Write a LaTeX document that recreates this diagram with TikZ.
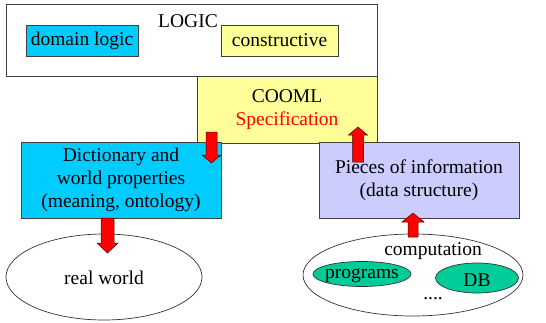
\documentclass[tikz,border=0pt]{standalone}
\usepackage{fontspec}
\setmainfont{Liberation Serif}
\definecolor{cyanbox}{HTML}{00CCFF}
\definecolor{yellowbox}{HTML}{FFFF99}
\definecolor{lavbox}{HTML}{CCCCFF}
\definecolor{greenell}{HTML}{00CC99}
\definecolor{redarrow}{HTML}{FF0000}
\begin{document}
\begin{tikzpicture}[x=1pt,y=-1pt,
  box/.style={draw=black!75,line width=0.8pt,rectangle,inner sep=0pt,align=center,
    font=\fontsize{19.5}{23}\selectfont},
  lbl/.style={inner sep=0pt,font=\fontsize{19.5}{23}\selectfont},
  ellline/.style={draw=black!80,line width=0.7pt},
  barrow/.style={fill=redarrow,draw=black!70!red,line width=0.5pt}]
\useasboundingbox (0,0) rectangle (546,322);
% boxes
\node[box,fill=white,minimum width=371pt,minimum height=72pt] (logic) at (191.5,40) {};
\node[lbl] (logict) at (188,21) {LOGIC};
\node[box,fill=cyanbox,minimum width=112pt,minimum height=31pt] (domain) at (82,40.5) {domain logic};
\node[box,fill=yellowbox,minimum width=117pt,minimum height=31pt] (constr) at (279.5,40.5) {constructive};
\node[box,fill=yellowbox,minimum width=180pt,minimum height=67pt] (cooml) at (287,109.5) {COOML\\\textcolor{redarrow}{Specification}};
\node[box,fill=cyanbox,minimum width=200pt,minimum height=76pt] (dict) at (121,180) {Dictionary and\\world properties\\(meaning, ontology)};
\node[box,fill=lavbox,minimum width=200pt,minimum height=76pt] (pieces) at (419,180) {Pieces of information\\(data structure)};
% ellipses
\draw[ellline,fill=white] (104,277) ellipse [x radius=98, y radius=43];
\node[lbl] (real) at (104,278) {real world};
\draw[ellline,fill=white] (413,275) ellipse [x radius=110, y radius=41];
\node[lbl] (comp) at (433,251) {computation};
\draw[ellline,fill=greenell] (362,274) ellipse [x radius=49, y radius=12.5];
\node[lbl] (prog) at (362,276) {programs};
\draw[ellline,fill=greenell] (477,278) ellipse [x radius=41.5, y radius=15];
\node[lbl] (db) at (477,280) {DB};
\node[lbl] (dots) at (433,299) {....};
% block arrows
\draw[barrow] (206,132) -- (217,132) -- (217,155) -- (221,155) -- (211.5,163) -- (202,155) -- (206,155) -- cycle;
\draw[barrow] (352.5,162) -- (363.5,162) -- (363.5,135) -- (367.5,135) -- (358,127) -- (348.5,135) -- (352.5,135) -- cycle;
\draw[barrow] (101,218) -- (114,218) -- (114,243) -- (118,243) -- (107.5,253) -- (97,243) -- (101,243) -- cycle;
\draw[barrow] (408,237) -- (418,237) -- (418,222) -- (424,222) -- (413,213) -- (402,222) -- (408,222) -- cycle;
\end{tikzpicture}
\end{document}
